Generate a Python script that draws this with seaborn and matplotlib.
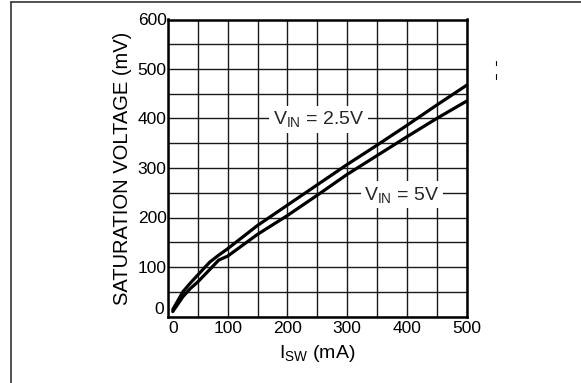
import numpy as np
import pandas as pd
import matplotlib
matplotlib.use("Agg")
import matplotlib.pyplot as plt
import matplotlib.transforms as mtransforms
from matplotlib.lines import Line2D
import seaborn as sns

# Data
isw_ma = [8, 25, 37, 50, 70, 85, 100, 150, 200, 250, 300, 350, 400, 450, 500]
vsat_25 = [14, 50, 67, 84, 110, 124, 137, 184, 225, 266, 307, 346, 386, 427, 467]
vsat_5 = [10, 40, 56, 70, 95, 114, 122, 166, 204, 245, 287, 325, 363, 400, 435]
series_names = ["V_IN = 2.5V", "V_IN = 5V"]

x_ticks = [0, 100, 200, 300, 400, 500]
y_ticks = [0, 100, 200, 300, 400, 500, 600]

df = pd.DataFrame({
    "isw": isw_ma * 2,
    "vsat": vsat_25 + vsat_5,
    "series": [series_names[0]] * len(isw_ma) + [series_names[1]] * len(isw_ma),
})

sns.set_theme(style="white")
plt.rcParams["font.family"] = ["Liberation Sans", "DejaVu Sans"]
plt.rcParams["mathtext.fontset"] = "custom"
plt.rcParams["mathtext.rm"] = "Liberation Sans"
plt.rcParams["mathtext.it"] = "Liberation Sans:italic"

W, H = 581, 383
fig = plt.figure(figsize=(W / 100, H / 100), dpi=100)
ax = fig.add_axes([168 / W, 1 - 316.5 / H, 298.5 / W, 297 / H])

sns.lineplot(data=df, x="isw", y="vsat", hue="series", palette=["black", "black"],
             linewidth=2.3, legend=False, ax=ax, zorder=3)

ax.set_xlim(0, 500)
ax.set_ylim(0, 600)
ax.set_xticks(x_ticks)
ax.set_yticks(y_ticks)
ax.set_xticks(np.arange(50, 500, 100), minor=True)
ax.set_yticks(np.arange(50, 600, 100), minor=True)
ax.grid(True, which="both", color="#1a1a1a", linewidth=1.0, zorder=1)
ax.set_axisbelow(True)
ax.tick_params(axis="both", which="both", length=0, labelsize=12.5, colors="black")
ax.tick_params(axis="y", pad=1)
ax.tick_params(axis="x", pad=3)
for s in ax.spines.values():
    s.set_visible(True)
    s.set_color("black")
    s.set_linewidth(1.8)

ax.set_xlabel(r"I$_\mathrm{SW}$ (mA)", fontsize=14, color="black", labelpad=5)
ax.set_ylabel("SATURATION VOLTAGE (mV)", fontsize=14.5, color="black", labelpad=4)

# shift the two "0" labels away from the corner, as in the reference
fig.canvas.draw()
ylab0 = ax.get_yticklabels()[0]
ylab0.set_transform(ylab0.get_transform() + mtransforms.ScaledTranslation(-3 / 100, 8 / 100, fig.dpi_scale_trans))
xlab0 = ax.get_xticklabels()[0]
xlab0.set_transform(xlab0.get_transform() + mtransforms.ScaledTranslation(5 / 100, 0, fig.dpi_scale_trans))

bbox = dict(facecolor="white", edgecolor="none", pad=2.5)
ax.text(252, 398, r"V$_\mathrm{IN}$ = 2.5V", fontsize=14, ha="center", va="center",
        bbox=bbox, zorder=4)
ax.text(392, 246, r"V$_\mathrm{IN}$ = 5V", fontsize=14, ha="center", va="center",
        bbox=bbox, zorder=4)

# outer frame (left and top edges)
fig.add_artist(Line2D([11 / W, 11 / W], [0, 1 - 1.7 / H],
                      transform=fig.transFigure, color="#333333", linewidth=1.2))
fig.add_artist(Line2D([11 / W, 1], [1 - 1.7 / H, 1 - 1.7 / H],
                      transform=fig.transFigure, color="#333333", linewidth=1.2))
# small stray marks at right
for y0, y1 in [(61, 65), (74, 79)]:
    fig.add_artist(Line2D([495.7 / W, 495.7 / W], [1 - y1 / H, 1 - y0 / H],
                          transform=fig.transFigure, color="black", linewidth=0.8))

fig.savefig("out.png", dpi=100)
